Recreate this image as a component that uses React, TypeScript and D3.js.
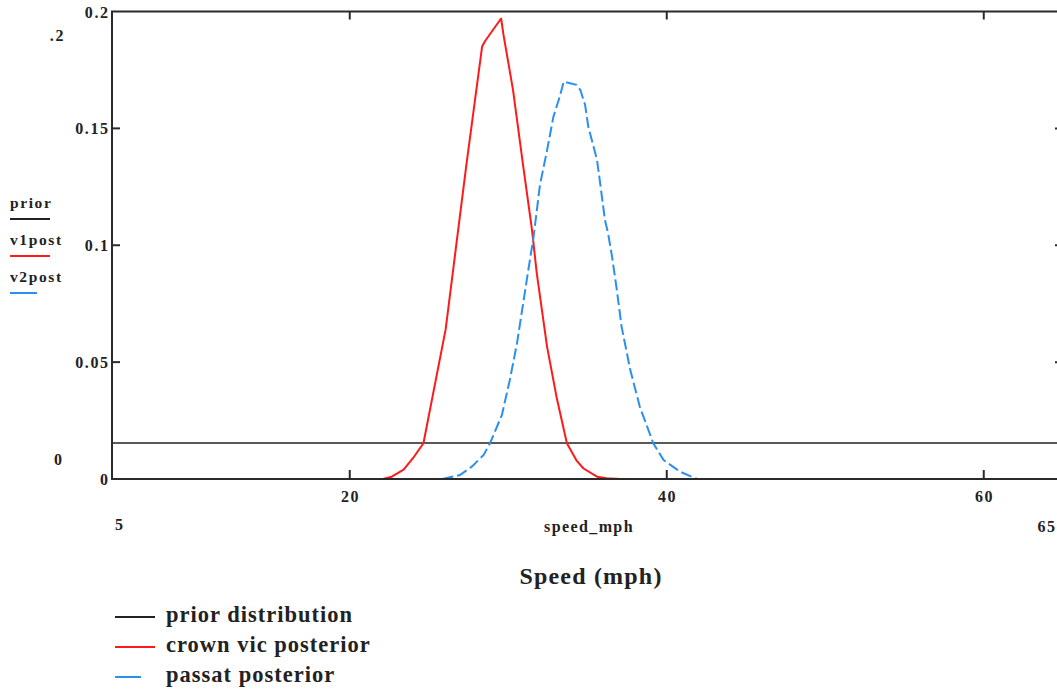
import React from "react";
import * as d3 from "d3";

// ---- data ----
const xTicks = [20, 40, 60];
const yTicks = [0, 0.05, 0.1, 0.15, 0.2];
const yTickLabels = ["0", "0.05", "0.1", "0.15", "0.2"];
const xDomain = [5, 65];
const yDomain = [0, 0.2];

const priorSpeeds = [5, 65];
const priorValues = [0.0154, 0.0154];

const crownSpeeds = [22.1, 22.65, 23.4, 24.0, 24.65, 26.05, 27.35, 28.35, 28.55, 29.55, 29.7, 30.3, 30.95, 31.5, 31.8, 32.45, 33.05, 33.7, 34.3, 34.75, 35.6, 36.2, 37.05];
const crownValues = [0, 0.001, 0.004, 0.009, 0.0153, 0.064, 0.134, 0.185, 0.1875, 0.197, 0.19, 0.1665, 0.1335, 0.1065, 0.088, 0.0565, 0.035, 0.0153, 0.008, 0.0045, 0.001, 0.0003, 0];

const passatSpeeds = [25.85, 26.95, 27.7, 28.45, 28.85, 29.6, 30.1, 30.55, 31.25, 31.6, 32.0, 32.45, 32.85, 33.25, 33.5, 34.3, 34.55, 34.85, 35.05, 35.3, 35.6, 35.8, 36.1, 36.3, 36.55, 36.85, 37.15, 37.7, 38.3, 39.15, 39.8, 40.85, 41.9, 42.3];
const passatValues = [0, 0.0017, 0.0053, 0.0103, 0.0153, 0.0274, 0.0424, 0.058, 0.0887, 0.1037, 0.1258, 0.1407, 0.155, 0.1636, 0.17, 0.1686, 0.1664, 0.16, 0.1507, 0.1443, 0.1365, 0.1265, 0.1108, 0.1051, 0.0951, 0.0809, 0.0652, 0.0466, 0.0309, 0.0153, 0.0081, 0.0031, 0, 0];

const sideLegend = ["prior", "v1post", "v2post"];
const bottomLegend = ["prior distribution", "crown vic posterior", "passat posterior"];
const colors = ["#222222", "#ff1a1a", "#2b8ff0"];

export default function App() {
  const left = 112, right = 1063, top = 11.5, bottom = 479;
  const x = d3.scaleLinear().domain(xDomain).range([left, right]);
  const y = d3.scaleLinear().domain(yDomain).range([bottom, top]);
  const mk = (xs: number[], ys: number[]) =>
    d3.line<number>().x((_, i) => x(xs[i])).y((d) => y(d))(ys) || "";
  const font = "'Liberation Serif', 'Times New Roman', serif";
  const axisColor = "#2a2a2a";
  const ls = 1.6;

  return (
    <svg
      width={1057}
      height={690}
      style={{ position: "absolute", left: 0, top: 0, background: "#fff" }}
      fontFamily={font}
      fontWeight="bold"
      fill="#222"
    >
      {/* data lines */}
      <path d={mk(priorSpeeds, priorValues)} stroke={colors[0]} strokeWidth={1.6} fill="none" />
      <path d={mk(crownSpeeds, crownValues)} stroke={colors[1]} strokeWidth={2} fill="none" strokeLinejoin="round" />
      <path d={mk(passatSpeeds, passatValues)} stroke={colors[2]} strokeWidth={2} fill="none" strokeDasharray="11,4" />

      {/* frame */}
      <rect x={left} y={top} width={right - left} height={bottom - top} fill="none" stroke={axisColor} strokeWidth={2} />

      {/* x ticks */}
      {xTicks.map((t) => (
        <g key={"xt" + t}>
          <line x1={x(t)} x2={x(t)} y1={bottom} y2={bottom - 9} stroke={axisColor} strokeWidth={2} />
          <line x1={x(t)} x2={x(t)} y1={top} y2={top + 8} stroke={axisColor} strokeWidth={2} />
          <text x={x(t) + ls / 2} y={bottom + 23} textAnchor="middle" fontSize={16} letterSpacing={ls}>{t}</text>
        </g>
      ))}
      {/* y ticks */}
      {yTicks.map((t, i) => (
        <g key={"yt" + t}>
          {t > 0 && t < 0.2 && (
            <>
              <line x1={left} x2={left + 8} y1={y(t)} y2={y(t)} stroke={axisColor} strokeWidth={2} />
              <line x1={right} x2={right - 8} y1={y(t)} y2={y(t)} stroke={axisColor} strokeWidth={2} />
            </>
          )}
          <text x={left - 4 + ls} y={y(t) + 6} textAnchor="end" fontSize={16} letterSpacing={ls}>{yTickLabels[i]}</text>
        </g>
      ))}

      {/* range labels */}
      <text x={65} y={41} textAnchor="end" fontSize={16} letterSpacing={ls}>.2</text>
      <text x={58} y={465} textAnchor="middle" fontSize={16}>0</text>
      <text x={119} y={530} textAnchor="middle" fontSize={16}>5</text>
      <text x={1047} y={532} textAnchor="middle" fontSize={16} letterSpacing={ls}>65</text>
      <text x={589} y={532} textAnchor="middle" fontSize={16} letterSpacing={1.4}>speed_mph</text>

      {/* side legend */}
      {sideLegend.map((s, i) => (
        <g key={s}>
          <text x={10} y={208 + i * 37} fontSize={15.5} letterSpacing={1.6}>{s}</text>
          <line x1={10} x2={i === 2 ? 37 : 50} y1={219 + i * 37} y2={219 + i * 37} stroke={colors[i]} strokeWidth={2} />
        </g>
      ))}

      {/* axis title */}
      <text x={591} y={584} textAnchor="middle" fontSize={24} letterSpacing={1.2}>Speed (mph)</text>

      {/* bottom legend */}
      {bottomLegend.map((s, i) => (
        <g key={s}>
          <line x1={115} x2={i === 2 ? 141 : 155} y1={617 + i * 30} y2={617 + i * 30} stroke={colors[i]} strokeWidth={2} />
          <text x={166} y={622 + i * 30} fontSize={22.5} letterSpacing={1}>{s}</text>
        </g>
      ))}
    </svg>
  );
}
